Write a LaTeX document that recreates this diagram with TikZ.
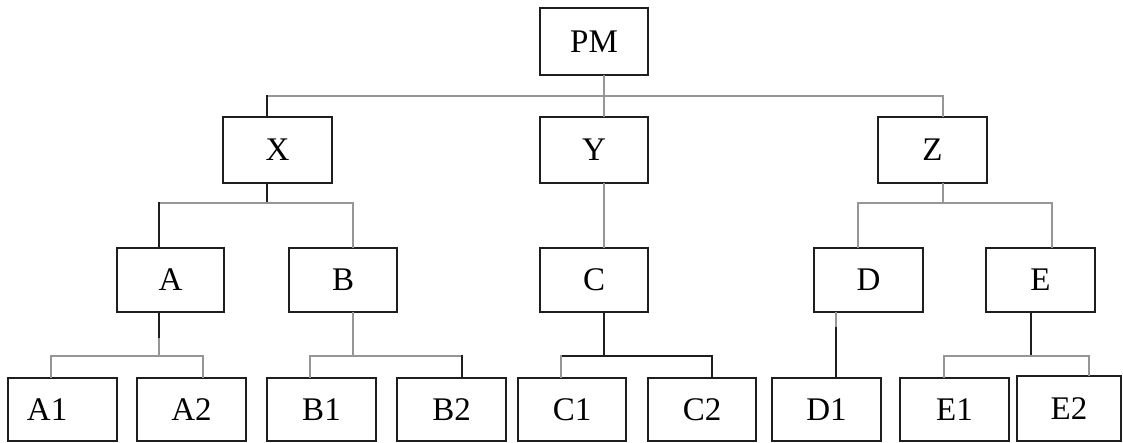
\documentclass[tikz,border=0pt]{standalone}
\usepackage{fontspec}
\setmainfont{Liberation Serif}
\definecolor{lg}{RGB}{150,150,150}
\definecolor{dk}{RGB}{30,30,30}
\begin{document}
\begin{tikzpicture}[x=1pt,y=-1pt,
  box/.style={draw=dk, line width=1.8pt, rectangle, minimum width=109pt, minimum height=66pt, inner sep=0pt, font=\fontsize{33}{36}\selectfont},
  gl/.style={draw=lg, line width=1.5pt, line cap=rect},
  bl/.style={draw=dk, line width=1.5pt, line cap=rect}]
\useasboundingbox (0,0) rectangle (1123,443);
% level 0
\node[box, minimum width=108pt, minimum height=67pt] (PM) at (594,41.5) {PM};
% level 1
\node[box] (X) at (277.5,150) {X};
\node[box, minimum width=108pt] (Y) at (594,150) {Y};
\node[box] (Z) at (932.5,150) {Z};
% level 2
\node[box, minimum width=107pt, minimum height=64pt] (A) at (170.5,280) {A};
\node[box, minimum width=108pt, minimum height=64pt] (B) at (343,280) {B};
\node[box, minimum width=108pt, minimum height=64pt] (C) at (594,280) {C};
\node[box, minimum height=64pt] (D) at (868.5,280) {D};
\node[box, minimum height=64pt] (E) at (1040.5,280) {E};
% level 3
\node[box, minimum height=63pt] (A1) at (62.5,409.5) {\makebox[71pt][l]{A1}};
\node[box, minimum height=63pt] (A2) at (191.5,409.5) {A2};
\node[box, minimum height=63pt] (B1) at (321.5,409.5) {B1};
\node[box, minimum height=63pt] (B2) at (451.5,409.5) {B2};
\node[box, minimum width=108pt, minimum height=63pt] (C1) at (572,409.5) {C1};
\node[box, minimum width=108pt, minimum height=63pt] (C2) at (702,409.5) {C2};
\node[box, minimum height=63pt] (D1) at (826.5,409.5) {D1};
\node[box, minimum height=63pt] (E1) at (954.5,409.5) {E1};
\node[box, minimum width=104pt, minimum height=65pt] (E2) at (1069,408.5) {E2};
% junction coordinates
\coordinate (j0) at (604,96);
\coordinate (jX) at (267,96);
\coordinate (jZ) at (943,96);
\coordinate (kX) at (267,203);
\coordinate (kA) at (159,203);
\coordinate (kB) at (353,203);
\coordinate (kZ) at (943,203);
\coordinate (kD) at (858,203);
\coordinate (kE) at (1052,203);
\coordinate (mA) at (159,356);
\coordinate (mAb) at (159,339);
\coordinate (mA1) at (51,356);
\coordinate (mA2) at (203,356);
\coordinate (mB) at (353,356);
\coordinate (mB1) at (310,356);
\coordinate (mB2) at (462,356);
\coordinate (mC) at (604,356);
\coordinate (mC1) at (561,356);
\coordinate (mC2) at (712,356);
\coordinate (mD) at (836,328);
\coordinate (mE) at (1031,356);
\coordinate (mE1) at (944,356);
\coordinate (mE2) at (1089,356);
% level 0 -> 1
\draw[gl] (PM.south -| j0) -- (j0);
\draw[gl] (jX) -- (jZ);
\draw[gl] (j0) -- (Y.north -| j0);
\draw[bl] (jX) -- (X.north -| jX);
\draw[gl] (jZ) -- (Z.north -| jZ);
% X -> A, B
\draw[bl] (X.south -| kX) -- (kX);
\draw[gl] (kA) -- (kB);
\draw[bl] (kA) -- (A.north -| kA);
\draw[gl] (kB) -- (B.north -| kB);
% Y -> C
\draw[gl] (Y.south -| j0) -- (C.north -| j0);
% Z -> D, E
\draw[gl] (Z.south -| kZ) -- (kZ);
\draw[gl] (kD) -- (kE);
\draw[gl] (kD) -- (D.north -| kD);
\draw[gl] (kE) -- (E.north -| kE);
% A -> A1, A2
\draw[bl] (A.south -| mA) -- (mAb);
\draw[gl] (mAb) -- (mA);
\draw[gl] (mA1) -- (mA2);
\draw[gl] (mA1) -- (A1.north -| mA1);
\draw[gl] (mA2) -- (A2.north -| mA2);
% B -> B1, B2
\draw[gl] (B.south -| mB) -- (mB);
\draw[gl] (mB1) -- (mB2);
\draw[gl] (mB1) -- (B1.north -| mB1);
\draw[bl] (mB2) -- (B2.north -| mB2);
% C -> C1, C2
\draw[bl] (C.south -| mC) -- (mC);
\draw[bl] (mC1) -- (mC2);
\draw[gl] (mC1) -- (C1.north -| mC1);
\draw[bl] (mC2) -- (C2.north -| mC2);
% D -> D1
\draw[gl] (D.south -| mD) -- (mD);
\draw[bl] (mD) -- (D1.north -| mD);
% E -> E1, E2
\draw[bl] (E.south -| mE) -- (mE);
\draw[gl] (mE1) -- (mE2);
\draw[gl] (mE1) -- (E1.north -| mE1);
\draw[gl] (mE2) -- (E2.north -| mE2);
\end{tikzpicture}
\end{document}
